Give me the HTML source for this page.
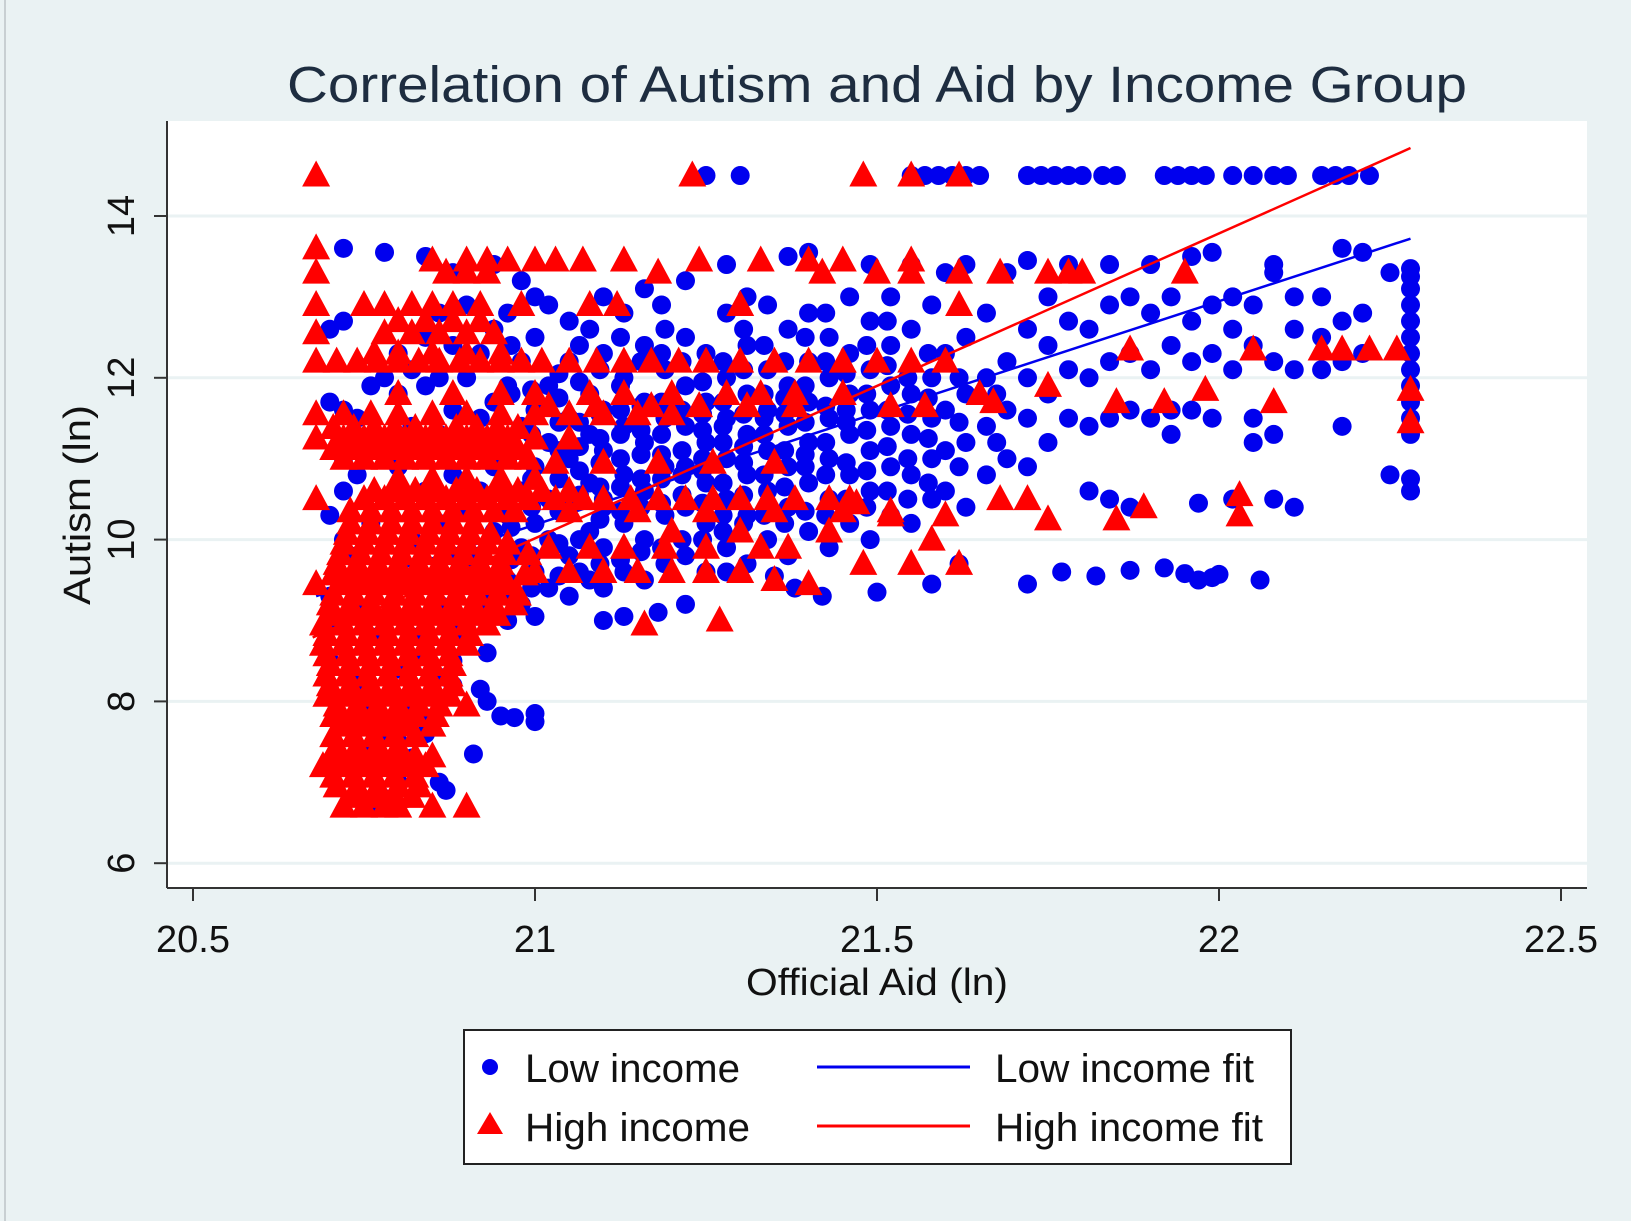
<!DOCTYPE html>
<html><head><meta charset="utf-8"><style>
html,body{margin:0;padding:0;background:#eaf2f3;}
svg{display:block;font-family:"Liberation Sans",Arial,sans-serif;}
</style></head><body>
<svg id="chart" width="1631" height="1221" viewBox="0 0 1631 1221" xmlns="http://www.w3.org/2000/svg">
<rect x="0" y="0" width="1631" height="1221" fill="#eaf2f3"/>
<line x1="5" y1="0" x2="5" y2="1221" stroke="#c8cfd2" stroke-width="2"/>
<text x="877" y="102" text-anchor="middle" font-size="51" fill="#1e2d40" textLength="1180" lengthAdjust="spacingAndGlyphs">Correlation of Autism and Aid by Income Group</text>
<rect x="167" y="121" width="1420" height="767" fill="#ffffff"/>
<g id="grid"></g>
<g id="marks"></g>
<g id="axes"></g>
<text x="877" y="995" text-anchor="middle" font-size="38" fill="#111" textLength="262" lengthAdjust="spacingAndGlyphs">Official Aid (ln)</text>
<text transform="translate(90,505) rotate(-90)" text-anchor="middle" font-size="38" fill="#111" textLength="200" lengthAdjust="spacingAndGlyphs">Autism (ln)</text>
<g>
<rect x="464" y="1030" width="827" height="134" fill="#fff" stroke="#222" stroke-width="2"/>
<circle cx="490" cy="1067" r="8" fill="#0000ee"/>
<text x="525" y="1082" font-size="40" fill="#111" textLength="215" lengthAdjust="spacingAndGlyphs">Low income</text>
<polygon points="490,1112 503,1134 477,1134" fill="#ff0000"/>
<text x="525" y="1141" font-size="40" fill="#111" textLength="225" lengthAdjust="spacingAndGlyphs">High income</text>
<line x1="817" y1="1067" x2="970" y2="1067" stroke="#0000ee" stroke-width="3"/>
<text x="995" y="1082" font-size="40" fill="#111" textLength="259" lengthAdjust="spacingAndGlyphs">Low income fit</text>
<line x1="817" y1="1126" x2="970" y2="1126" stroke="#ff0000" stroke-width="3"/>
<text x="995" y="1141" font-size="40" fill="#111" textLength="268" lengthAdjust="spacingAndGlyphs">High income fit</text>
</g>
</svg>
<script>
const xTicks=[20.5,21,21.5,22,22.5];
const xTickLabels=["20.5","21","21.5","22","22.5"];
const yTicks=[6,8,10,12,14];
const yTickLabels=["6","8","10","12","14"];
const lowFit=[20.68,9.3,22.28,13.72];
const highFit=[20.675,8.79,22.28,14.84];
const lowCols=[
[20.7,[8.5,9.0,9.3,10.3,11.7,12.6]],
[20.72,[9.5,10.0,10.6,11.0,11.6,12.7,13.6]],
[20.74,[8.2,9.1,9.8,10.8,11.5]],
[20.76,[6.7,7.4,8.0,8.8,10.2,11.9]],
[20.78,[6.8,7.6,9.0,10.5,11.2,12.0,13.55]],
[20.8,[7.0,7.5,8.4,9.6,10.9,11.8,12.3]],
[20.82,[7.3,8.0,8.8,10.0,11.4,12.1]],
[20.84,[7.8,8.6,9.5,10.6,11.9,12.5,13.5]],
[20.86,[8.3,9.2,10.2,11.3,12.0,12.8]],
[20.88,[8.5,9.0,9.8,10.8,11.6,12.4,13.3]],
[20.9,[8.9,9.6,10.4,11.1,12.0,12.9]],
[20.92,[9.1,9.8,10.6,11.5,12.3]],
[20.94,[9.3,10.1,10.9,11.7,12.6,13.4]],
[20.96,[9.0,9.5,10.3,11.0,11.9,12.8]],
[20.98,[9.2,9.9,10.6,11.4,12.2,13.2]],
[21.0,[9.05,9.6,10.2,10.9,11.6,12.5,13.0]],
[21.02,[9.4,10.0,10.5,11.2,11.9,12.9]],
[21.05,[9.3,9.8,10.4,11.0,11.5,12.2,12.7]],
[21.08,[9.5,10.1,10.7,11.3,11.8,12.6]],
[21.1,[9.4,9.9,10.5,11.1,11.6,12.3,13.0]],
[21.13,[9.6,10.2,10.8,11.4,12.0,12.8]],
[21.16,[9.5,10.0,10.6,11.2,11.7,12.4,13.1]],
[21.19,[9.7,10.3,10.9,11.5,12.1,12.6]],
[21.22,[9.8,10.4,10.9,11.4,11.9,12.5,13.2]],
[21.25,[9.6,10.2,10.7,11.2,11.7,12.3]],
[21.28,[9.9,10.5,11.0,11.5,12.0,12.8,13.4]],
[21.31,[9.7,10.3,10.8,11.3,11.8,12.4,13.0]],
[21.34,[10.0,10.6,11.1,11.6,12.1,12.9]],
[21.37,[9.8,10.4,10.9,11.4,11.9,12.6,13.5]],
[21.4,[10.1,10.7,11.2,11.7,12.2,12.8,13.55]],
[21.43,[9.9,10.5,11.0,11.5,12.0,12.5]],
[21.46,[10.2,10.8,11.3,11.8,12.3,13.0]],
[21.49,[10.0,10.6,11.1,11.6,12.1,12.7,13.4]],
[21.52,[10.3,10.9,11.4,11.9,12.4,13.0]],
[21.55,[10.2,10.8,11.3,11.8,12.6,13.4]],
[21.58,[10.5,11.0,11.5,12.0,12.9]],
[21.6,[10.6,11.1,11.6,12.3,13.3]],
[21.63,[10.4,11.2,11.8,12.5,13.4]],
[21.66,[10.8,11.4,12.0,12.8]],
[21.69,[11.0,11.6,12.2,13.3]],
[21.72,[10.9,11.5,12.0,12.6,13.45]],
[21.75,[11.2,11.8,12.4,13.0]],
[21.78,[11.5,12.1,12.7,13.4]],
[21.81,[10.6,11.4,12.0,12.6]],
[21.84,[10.5,11.5,12.2,12.9,13.4]],
[21.87,[10.4,11.6,12.3,13.0]],
[21.9,[11.5,12.1,12.8,13.4]],
[21.93,[11.3,11.6,12.4,13.0]],
[21.96,[11.6,12.2,12.7,13.5]],
[21.99,[11.5,12.3,12.9,13.55]],
[22.02,[10.5,12.1,12.6,13.0]],
[22.05,[11.2,11.5,12.4,12.9]],
[22.08,[10.5,11.3,12.2,13.3,13.4]],
[22.11,[10.4,12.1,12.6,13.0]],
[22.15,[12.1,12.5,13.0]],
[22.18,[11.4,12.2,12.7,13.6]],
[22.21,[12.3,12.8,13.55]],
[22.25,[10.8,13.3]],
[22.28,[10.6,10.75,11.3,11.5,11.7,11.9,12.1,12.3,12.5,12.7,12.9,13.1,13.25,13.35]]
];
const lowCols2=[
[20.965,[9.35,9.75,10.15,10.55,11.25,11.8,12.4]],
[20.995,[9.4,9.8,10.4,10.75,11.3,11.85]],
[21.035,[9.55,9.95,10.35,10.75,11.1,11.45,11.75,12.05]],
[21.065,[9.6,10.0,10.55,10.85,11.15,11.45,11.95,12.4]],
[21.095,[9.7,10.25,10.65,10.95,11.25,11.55,12.1]],
[21.125,[9.75,10.35,10.65,11.0,11.3,11.6,11.9,12.5]],
[21.155,[9.85,10.4,10.75,11.05,11.35,11.65,12.2]],
[21.185,[9.9,10.45,10.75,11.05,11.3,11.7,12.3,12.9]],
[21.215,[10.0,10.55,10.8,11.1,11.6,12.2]],
[21.245,[10.0,10.45,10.85,11.0,11.35,11.55,11.95]],
[21.275,[10.1,10.3,10.7,11.2,11.4,11.7,12.2]],
[21.305,[10.2,10.55,10.95,11.15,11.55,12.1,12.6]],
[21.335,[10.3,10.8,11.3,11.5,11.8,12.4]],
[21.365,[10.2,10.65,11.1,11.55,11.75,12.2]],
[21.395,[10.35,10.9,11.05,11.45,11.9,12.5]],
[21.425,[10.3,10.8,11.2,11.65,12.2,12.8]],
[21.455,[10.5,10.95,11.45,11.6,12.05]],
[21.485,[10.4,10.85,11.35,11.8,12.4]],
[21.515,[10.6,11.15,11.6,12.15,12.7]],
[21.545,[10.5,11.0,11.55,12.0]],
[21.575,[10.7,11.25,11.75,12.3]],
[21.62,[10.9,11.45,12.0]],
[21.675,[11.2,11.8]]
];
const lowRows=[
[14.5,[21.25,21.3,21.55,21.57,21.59,21.61,21.63,21.65,21.72,21.74,21.76,21.78,21.8,21.83,21.85,21.92,21.94,21.96,21.98,22.02,22.05,22.08,22.1,22.15,22.17,22.19,22.22]]
];
const lowExtra=[[21.72,9.45],[21.77,9.6],[21.82,9.55],[21.87,9.62],[21.92,9.65],[21.95,9.58],[21.97,9.5],[21.99,9.53],[22.0,9.57],[22.06,9.5],[21.62,9.7],[21.58,9.45],[21.5,9.35],[21.42,9.3],[21.38,9.4],[21.35,9.55],[21.28,9.6],[21.22,9.2],[21.18,9.1],[21.13,9.05],[21.1,9.0],
[20.97,7.8],[21.0,7.85],[21.0,7.75],[20.95,7.82],[20.93,8.0],[20.91,7.35],[20.86,7.0],[20.87,6.9],[20.82,7.2],[20.84,7.6],[20.92,8.15],[20.93,8.6],[20.88,8.2],[20.9,8.8],[21.05,10.45],[21.1,10.4],[21.97,10.45]];
const highRows=[
[6.7,[20.72,20.75,20.78,20.8,20.85,20.9]],
[6.95,[20.71,20.74,20.77,20.8,20.83]],
[7.2,[20.69,20.72,20.75,20.78,20.81,20.84]],
[7.45,[20.71,20.74,20.77,20.8]],
[7.7,[20.72,20.75,20.78,20.81,20.85]],
[7.95,[20.71,20.74,20.77,20.8,20.83,20.86,20.9]],
[8.2,[20.7,20.73,20.76,20.79,20.82,20.85,20.88]],
[8.45,[20.7,20.73,20.76,20.79,20.82,20.85,20.88]],
[8.7,[20.69,20.72,20.75,20.78,20.81,20.84,20.87,20.9]],
[8.95,[20.69,20.72,20.75,20.78,20.81,20.84,20.87,20.9,20.93]],
[9.2,[20.7,20.73,20.76,20.79,20.82,20.85,20.88,20.91,20.94,20.97]],
[9.45,[20.68,20.72,20.75,20.78,20.81,20.84,20.87,20.9,20.93,20.96]],
[9.7,[20.71,20.74,20.77,20.8,20.83,20.86,20.89,20.92,20.95]],
[9.95,[20.72,20.75,20.78,20.81,20.84,20.87,20.9,20.93,20.96]],
[10.2,[20.73,20.76,20.79,20.82,20.85,20.88,20.91]],
[10.5,[20.68,20.75,20.78,20.81,20.84,20.87,20.9,20.93,20.96,20.99,21.03,21.07,21.1,21.14,21.18,21.22,21.26,21.3,21.34,21.38,21.43,21.46]],
[10.75,[20.8,20.85,20.9,20.95,21.0]],
[11.0,[20.72,20.75,20.78,20.81,20.84,20.87,20.9,20.93,20.96,20.99]],
[11.25,[20.68,20.72,20.75,20.78,20.81,20.84,20.87,20.9,20.93,20.96,21.0,21.05]],
[11.55,[20.68,20.72,20.76,20.8,20.85,20.9,20.95,21.0,21.05,21.1,21.15,21.2]],
[11.8,[20.8,20.88,20.95,21.0,21.08,21.13,21.2,21.28,21.33,21.38,21.45]],
[12.2,[20.68,20.71,20.74,20.77,20.8,20.83,20.86,20.89,20.92,20.95,20.98,21.01,21.05,21.09,21.13,21.17,21.21,21.25,21.3,21.35,21.4,21.45,21.5,21.55,21.6]],
[12.35,[21.87,22.05,22.15,22.18,22.22,22.26]],
[12.55,[20.68,20.78,20.82,20.86,20.9,20.94]],
[12.9,[20.68,20.75,20.78,20.82,20.85,20.88,20.92,20.98,21.08,21.12,21.3,21.62]],
[13.3,[20.68,20.87,20.9,20.93,21.18,21.42,21.5,21.55,21.62,21.68,21.75,21.78,21.8,21.95]],
[13.45,[20.85,20.9,20.93,20.96,21.0,21.03,21.07,21.13,21.24,21.33,21.4,21.45,21.55]],
[13.6,[20.68]],
[14.5,[20.68,21.23,21.48,21.55,21.62]],
[9.6,[21.0,21.05,21.1,21.15,21.2,21.25,21.3]],
[9.9,[21.02,21.08,21.13,21.19,21.25,21.33,21.37]],
[10.1,[21.2,21.3,21.43]]
];
const highRows2=[
[6.82,[20.735,20.765,20.795,20.82]],
[7.07,[20.705,20.735,20.765,20.795,20.825]],
[7.32,[20.705,20.735,20.765,20.795,20.825,20.85]],
[7.57,[20.705,20.735,20.765,20.795,20.825]],
[7.82,[20.705,20.735,20.765,20.795,20.825,20.855]],
[8.07,[20.695,20.725,20.755,20.785,20.815,20.845,20.875]],
[8.32,[20.695,20.725,20.755,20.785,20.815,20.845,20.875]],
[8.57,[20.695,20.725,20.755,20.785,20.815,20.845,20.875]],
[8.82,[20.695,20.725,20.755,20.785,20.815,20.845,20.875,20.905]],
[9.07,[20.705,20.735,20.765,20.795,20.825,20.855,20.885,20.915,20.945]],
[9.32,[20.705,20.735,20.765,20.795,20.825,20.855,20.885,20.915,20.945,20.975]],
[9.57,[20.705,20.735,20.765,20.795,20.825,20.855,20.885,20.915,20.945,20.985]],
[9.82,[20.715,20.745,20.775,20.805,20.835,20.865,20.895,20.925,20.955,20.99]],
[10.07,[20.725,20.755,20.785,20.815,20.845,20.875,20.905,20.935]],
[10.35,[20.73,20.76,20.79,20.82,20.85,20.88,20.91,20.94,20.97,21.05,21.15,21.25,21.35,21.45,21.52]],
[10.6,[20.765,20.795,20.825,20.855,20.885,20.915,20.945,20.975,21.01,21.05]],
[10.95,[21.03,21.1,21.18,21.26,21.35]],
[11.12,[20.705,20.735,20.765,20.795,20.825,20.855,20.885,20.915,20.945,20.975]],
[11.38,[20.705,20.735,20.765,20.795,20.825,20.855,20.885,20.915,20.945,20.975]],
[11.65,[21.02,21.09,21.17,21.24,21.31,21.38,21.52,21.57]],
[12.3,[20.765,20.8,20.85,20.9,20.95]],
[12.7,[20.8,20.84,20.88,20.92]]
];
const highExtra=[[21.65,11.8],[21.67,11.7],[21.75,11.9],[21.85,11.7],[21.92,11.7],[21.98,11.85],[22.08,11.7],[22.28,11.85],[22.28,11.45],[21.68,10.5],[21.72,10.5],[21.75,10.25],[21.85,10.25],[21.89,10.4],[22.03,10.55],[22.03,10.3],[21.6,10.3],[21.58,10.0],[21.52,10.3],[21.48,9.7],[21.55,9.7],[21.62,9.7],[21.47,10.45],[21.4,9.45],[21.27,9.0],[21.16,8.95],[21.35,9.5]];

const NS="http://www.w3.org/2000/svg";
function X(v){return 193+(v-20.5)*684;}
function Y(v){return 216+(14-v)*80.9;}
function mk(tag,attrs,parent){const e=document.createElementNS(NS,tag);for(const k in attrs)e.setAttribute(k,attrs[k]);parent.appendChild(e);return e;}
const grid=document.getElementById('grid'),marks=document.getElementById('marks'),axes=document.getElementById('axes');
yTicks.forEach(t=>{const l=mk('line',{x1:167,x2:1587,y1:Y(t),y2:Y(t),stroke:'#eaf2f3','stroke-width':3},grid);

});
const lowPts=[],highPts=[];
lowCols.forEach(c=>c[1].forEach(y=>lowPts.push([c[0],y])));
lowCols2.forEach(c=>c[1].forEach(y=>lowPts.push([c[0],y])));
lowRows.forEach(r=>r[1].forEach(x=>lowPts.push([x,r[0]])));
lowExtra.forEach(p=>lowPts.push(p));
highRows.forEach(r=>r[1].forEach(x=>highPts.push([x,r[0]])));
highRows2.forEach(r=>r[1].forEach(x=>highPts.push([x,r[0]])));
highExtra.forEach(p=>highPts.push(p));
lowPts.forEach(p=>{const c=mk('circle',{cx:X(p[0]),cy:Y(p[1]),r:9.5,fill:'#0000ee'},marks);

});
function fitLine(f,col,name){const l=mk('line',{x1:X(f[0]),y1:Y(f[1]),x2:X(f[2]),y2:Y(f[3]),stroke:col,'stroke-width':2.5},marks);

}
fitLine(lowFit,'#0000ee','low-income-fit-line');
highPts.forEach(p=>{const x=X(p[0]),y=Y(p[1]);const t=mk('polygon',{points:`${x},${y-15} ${x+14},${y+11} ${x-14},${y+11}`,fill:'#ff0000'},marks);

});
fitLine(highFit,'#ff0000','high-income-fit-line');
let a=mk('line',{x1:167,y1:121,x2:167,y2:888,stroke:'#333','stroke-width':2},axes);


a=mk('line',{x1:167,y1:888,x2:1587,y2:888,stroke:'#333','stroke-width':2},axes);


xTicks.forEach((t,i)=>{const tk=mk('line',{x1:X(t),x2:X(t),y1:888,y2:901,stroke:'#333','stroke-width':2},axes);


const tx=mk('text',{x:X(t),y:952,'text-anchor':'middle','font-size':38,fill:'#111'},axes);tx.textContent=xTickLabels[i];

});
yTicks.forEach((t,i)=>{const tk=mk('line',{x1:154,x2:167,y1:Y(t),y2:Y(t),stroke:'#333','stroke-width':2},axes);


const tx=mk('text',{transform:`translate(134,${Y(t)}) rotate(-90)`,'text-anchor':'middle','font-size':38,fill:'#111'},axes);tx.textContent=yTickLabels[i];

});
</script>
</body></html>
